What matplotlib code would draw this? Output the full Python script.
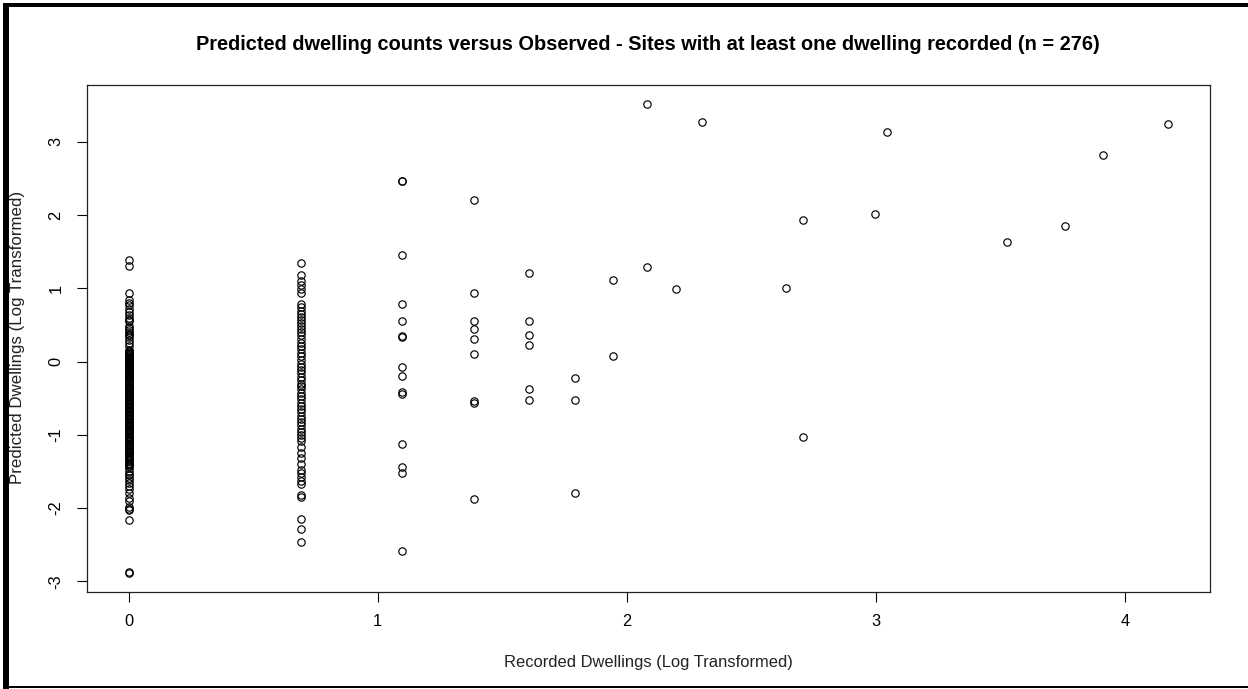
import numpy as np
import matplotlib
matplotlib.use("Agg")
from matplotlib import pyplot as plt
from matplotlib.patches import Rectangle

plt.rcParams["font.family"] = ["Liberation Sans", "DejaVu Sans"]
plt.rcParams["axes.unicode_minus"] = False

# predicted dwellings (log scale), grouped by recorded dwelling count
pred_1 = [1.39, 1.30, 0.94, 0.84, 0.80, 0.77, 0.72, 0.68, 0.64, 0.60, 0.57, 0.55,
          0.49, 0.46, 0.43, 0.41, 0.38, 0.36, 0.33, 0.29, 0.25, 0.21,
          0.16, 0.14, 0.13, 0.12, 0.11, 0.10, 0.09, 0.07, 0.06, 0.05, 0.04, 0.03,
          0.01, 0.00, -0.01, -0.02, -0.03, -0.04, -0.05, -0.06, -0.07, -0.08,
          -0.09, -0.11, -0.12, -0.13, -0.14, -0.15, -0.16, -0.18, -0.19, -0.20,
          -0.21, -0.22, -0.23, -0.25, -0.26, -0.27, -0.28, -0.30, -0.31, -0.33,
          -0.34, -0.35, -0.36, -0.37, -0.39, -0.40, -0.42, -0.43, -0.44, -0.45,
          -0.46, -0.48, -0.49, -0.51, -0.52, -0.53, -0.55, -0.56, -0.57, -0.58,
          -0.59, -0.61, -0.62, -0.63, -0.64, -0.66, -0.67, -0.68, -0.69, -0.71,
          -0.72, -0.73, -0.75, -0.76, -0.77, -0.78, -0.79, -0.80, -0.82, -0.83,
          -0.85, -0.87, -0.88, -0.89, -0.91, -0.92, -0.93, -0.94, -0.95, -0.96,
          -0.98, -0.99, -1.01, -1.03, -1.04, -1.05, -1.06, -1.07, -1.08, -1.09,
          -1.11, -1.13, -1.14, -1.15, -1.17, -1.18, -1.19, -1.21, -1.22, -1.23,
          -1.24, -1.25, -1.27, -1.29, -1.30, -1.31, -1.33, -1.35, -1.36, -1.38,
          -1.40, -1.41, -1.42,
          -1.46, -1.50, -1.53, -1.55, -1.59, -1.62, -1.66, -1.70, -1.74, -1.80,
          -1.86, -1.91, -1.98, -2.01, -2.03, -2.16, -2.87, -2.89]
pred_2 = [1.35, 1.18, 1.10, 1.04, 0.99, 0.93,
          0.78, 0.74, 0.69, 0.65, 0.61, 0.57, 0.53, 0.49, 0.45, 0.41, 0.36, 0.31,
          0.26, 0.21, 0.17, 0.12, 0.07, 0.02, -0.03, -0.07, -0.12, -0.16, -0.21,
          -0.25, -0.30, -0.34, -0.38, -0.43, -0.47, -0.51, -0.56, -0.60, -0.65,
          -0.69, -0.74, -0.78, -0.83, -0.87, -0.92, -0.96, -1.00, -1.05, -1.09,
          -1.16, -1.25, -1.31, -1.40, -1.48, -1.52, -1.57, -1.63, -1.67, -1.82,
          -1.85, -2.15, -2.29, -2.47]
pred_3 = [2.47, 2.46, 1.45, 0.78, 0.55, 0.34, 0.35, -0.07, -0.20, -0.41, -0.44,
          -1.13, -1.44, -1.52, -2.58]
pred_4 = [2.20, 0.93, 0.56, 0.44, 0.31, 0.10, -0.54, -0.57, -1.87]
pred_5 = [1.21, 0.55, 0.36, 0.23, -0.37, -0.52]
pred_6 = [-0.22, -0.52, -1.80]
pred_7 = [1.12, 0.07]
pred_8 = [3.52, 1.29]
pred_9 = [0.99]
pred_10 = [3.27]
pred_14 = [1.01]
pred_15 = [1.93, -1.03]
pred_20 = [2.01]
pred_21 = [3.13]
pred_34 = [1.63]
pred_43 = [1.85]
pred_50 = [2.82]
pred_65 = [3.24]

recorded = [1, 2, 3, 4, 5, 6, 7, 8, 9, 10, 14, 15, 20, 21, 34, 43, 50, 65]
predicted = [pred_1, pred_2, pred_3, pred_4, pred_5, pred_6, pred_7, pred_8, pred_9,
             pred_10, pred_14, pred_15, pred_20, pred_21, pred_34, pred_43, pred_50, pred_65]

X = []
Y = []
for c, p in zip(recorded, predicted):
    X += [np.log(c)] * len(p)
    Y += p
n = len(Y)

W, H = 1248, 689
fig = plt.figure(figsize=(W / 100, H / 100), dpi=100)
ax = fig.add_axes([87 / W, 1 - 592 / H, (1210 - 87) / W, (592 - 85) / H])

ax.plot(X, Y, "o", mfc="none", mec="black", ms=5.3, mew=0.85)
ax.margins(x=0.04, y=0.04)

ax.set_xticks([0, 1, 2, 3, 4])
ax.set_yticks([-3, -2, -1, 0, 1, 2, 3])
for lab in ax.get_yticklabels():
    lab.set_rotation(90)
    lab.set_va("center")
ax.tick_params(axis="both", length=7, width=0.8, labelsize=11.8, colors="black")
ax.tick_params(axis="x", pad=9)
ax.tick_params(axis="y", pad=10)
for sp in ax.spines.values():
    sp.set_linewidth(0.9)
    sp.set_color("#222222")

fig.text(648 / W, 1 - 45 / H,
         "Predicted dwelling counts versus Observed - Sites with at least one dwelling recorded (n = %d)" % n,
         ha="center", va="center", fontsize=14.4, fontweight="bold")
fig.text(648 / W, 1 - 662 / H, "Recorded Dwellings (Log Transformed)",
         ha="center", va="center", fontsize=11.9, color="#222222")
fig.text(18 / W, 1 - 337 / H, "Predicted Dwellings (Log Transformed)",
         ha="center", va="center", rotation=90, fontsize=12.2, color="#222222")

# frame round the image
for x0, y0, w, h in [(3, 3, 6, 686), (3, 3, 1245, 4), (3, 686, 1245, 2)]:
    fig.add_artist(Rectangle((x0 / W, 1 - (y0 + h) / H), w / W, h / H,
                             transform=fig.transFigure, color="black", lw=0))

fig.savefig("out.png", dpi=100)
